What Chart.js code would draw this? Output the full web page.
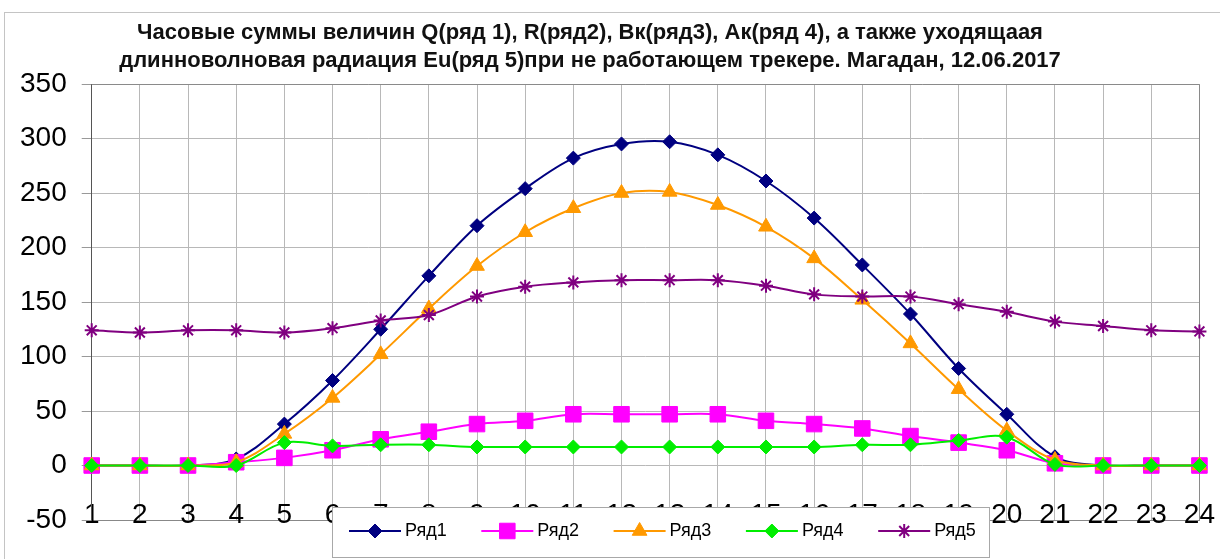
<!DOCTYPE html>
<html>
<head>
<meta charset="utf-8">
<title>Часовые суммы, Магадан 12.06.2017</title>
<script src="https://cdn.jsdelivr.net/npm/chart.js@4.4.1/dist/chart.umd.min.js"></script>
<style>
  html, body { margin: 0; padding: 0; background: #fff; }
  #wrap { width: 1220px; height: 559px; }
</style>
</head>
<body>
<div id="wrap"><canvas id="radiation" width="1220" height="559"></canvas></div>
<script>
const hours = ['1', '2', '3', '4', '5', '6', '7', '8', '9', '10', '11', '12',
    '13', '14', '15', '16', '17', '18', '19', '20', '21', '22', '23', '24'];
const seriesNames = ['Ряд1', 'Ряд2', 'Ряд3', 'Ряд4', 'Ряд5'];
// Q, R, Bk, Ak, Eu - hourly sums
const q  = [0, 0, 0, 6, 38, 78, 125, 174, 220, 254, 282, 295, 297, 285, 261, 227, 184, 139, 89, 47, 8, 0, 0, 0];
const r  = [0, 0, 0, 3, 7, 14, 24, 31, 38, 41, 47, 47, 47, 47, 41, 38, 34, 27, 21, 14, 2, 0, 0, 0];
const bk = [0, 0, 0, 3, 29, 62, 102, 144, 183, 214, 236, 250, 251, 239, 219, 190, 152, 112, 70, 32, 5, 0, 0, 0];
const ak = [0, 0, 0, 0, 21, 18, 19, 19, 17, 17, 17, 17, 17, 17, 17, 17, 19, 19, 23, 26, 1, 0, 0, 0];
const eu = [124, 122, 124, 124, 122, 126, 133, 138, 155, 164, 168, 170, 170, 170, 165, 157, 155, 155, 148, 141, 132, 128, 124, 123];
const yTicks = [-50, 0, 50, 100, 150, 200, 250, 300, 350];
const titleLines = [
    'Часовые суммы величин Q(ряд 1), R(ряд2), Вк(ряд3), Ак(ряд 4), а также уходящаая',
    'длинноволновая радиация Eu(ряд 5)при не работающем трекере. Магадан, 12.06.2017'
];

const FONT = '"Liberation Sans", Arial, sans-serif';

function series(label, data, color, style, radius, order) {
    return {
        label: label,
        data: data,
        borderColor: color,
        backgroundColor: color,
        pointBackgroundColor: color,
        pointBorderColor: color,
        pointStyle: style,
        pointRadius: radius,
        pointBorderWidth: style === 'star' ? 2 : 1,
        borderWidth: 2,
        tension: 0.35,
        order: order
    };
}

// frame, title and the boxed legend, drawn like the spreadsheet did
const decor = {
    id: 'decor',
    beforeDraw(chart) {
        const c = chart.ctx;
        c.save();
        c.fillStyle = '#fff';
        c.fillRect(0, 0, chart.width, chart.height);
        c.strokeStyle = '#c4c4c4';
        c.lineWidth = 1;
        c.strokeRect(4.5, 12.5, chart.width + 20, chart.height + 20);
        c.fillStyle = '#111';
        c.font = 'bold 22px ' + FONT;
        c.textAlign = 'center';
        c.textBaseline = 'middle';
        titleLines.forEach((t, i) => c.fillText(t, 590, 33 + i * 28));
        c.restore();
    },
    beforeDatasetsDraw(chart) {
        const a = chart.chartArea, c = chart.ctx;
        c.save();
        c.strokeStyle = '#8a8a8a';
        c.lineWidth = 1;
        c.beginPath();
        c.moveTo(a.left, Math.round(a.top) + 0.5);
        c.lineTo(Math.round(a.right) + 0.5, Math.round(a.top) + 0.5);
        c.lineTo(Math.round(a.right) + 0.5, a.bottom);
        c.stroke();
        c.restore();
    },
    afterDraw(chart) {
        const c = chart.ctx;
        c.save();
        c.fillStyle = '#fff';
        c.fillRect(332, 507, 657, 50);
        c.strokeStyle = '#a8a8a8';
        c.lineWidth = 1;
        c.strokeRect(332.5, 507.5, 657, 50);
        chart.data.datasets.forEach((ds, i) => {
            const x0 = 349 + i * 132.3, y = 531;
            c.strokeStyle = ds.borderColor;
            c.lineWidth = 2;
            c.beginPath();
            c.moveTo(x0, y);
            c.lineTo(x0 + 52, y);
            c.stroke();
            c.fillStyle = ds.pointBackgroundColor;
            c.lineWidth = ds.pointBorderWidth;
            if (Chart.helpers && Chart.helpers.drawPoint) {
                Chart.helpers.drawPoint(c, {
                    pointStyle: ds.pointStyle, radius: ds.pointRadius,
                    rotation: 0, borderWidth: ds.pointBorderWidth
                }, x0 + 26, y);
            }
            c.fillStyle = '#000';
            c.font = '18px ' + FONT;
            c.textAlign = 'left';
            c.textBaseline = 'middle';
            c.fillText(ds.label, x0 + 56, y);
        });
        c.restore();
    }
};

var radiation = document.getElementById('radiation').getContext('2d');
var radiation = new Chart(radiation, {
    type: 'line',
    data: {
        labels: hours,
        datasets: [
            series(seriesNames[0], q, '#000080', 'rectRot', 7, 5),
            series(seriesNames[1], r, '#ff00ff', 'rect', 11, 4),
            series(seriesNames[2], bk, '#ff9900', 'triangle', 8.5, 3),
            series(seriesNames[3], ak, '#00ee00', 'rectRot', 7, 2),
            series(seriesNames[4], eu, '#800080', 'star', 7, 1)
        ]
    },
    options: {
        responsive: false,
        animation: false,
        devicePixelRatio: 1,
        layout: {
            padding: { left: 5, right: 20, top: 84, bottom: 29 }
        },
        plugins: {
            legend: { display: false },
            title: { display: false },
            tooltip: { enabled: false }
        },
        scales: {
            x: {
                offset: false,
                grid: { color: '#b8b8b8', drawTicks: false, offset: false },
                border: { color: '#888' },
                ticks: {
                    color: '#000',
                    mirror: true,
                    crossAlign: 'center',
                    padding: 5,
                    maxRotation: 0,
                    autoSkip: false,
                    font: { family: FONT, size: 28 }
                }
            },
            y: {
                min: yTicks[0],
                max: yTicks[yTicks.length - 1],
                grid: { color: '#b8b8b8', tickLength: 10, tickColor: '#999' },
                border: { color: '#555' },
                ticks: {
                    stepSize: yTicks[1] - yTicks[0],
                    color: '#000',
                    padding: 15,
                    font: { family: FONT, size: 28 }
                }
            }
        }
    },
    plugins: [decor]
});
</script>
</body>
</html>
